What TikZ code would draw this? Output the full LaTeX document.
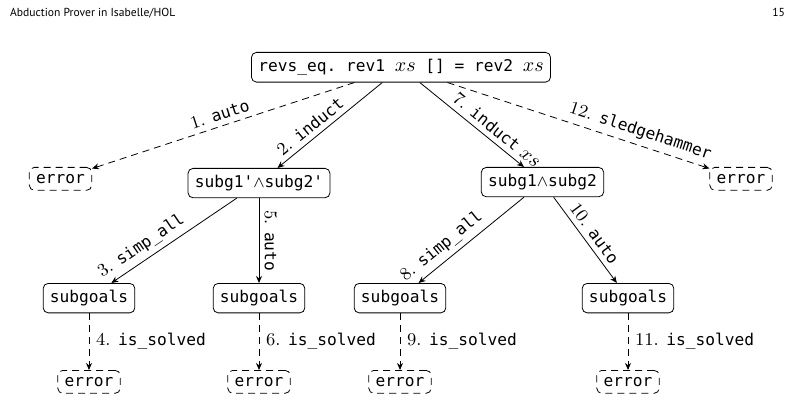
\documentclass[tikz,border=0pt]{standalone}
\usepackage{fontspec}
\setmonofont{DejaVu Sans Mono}
\newfontfamily\headfont{PT Sans}
\usetikzlibrary{arrows.meta}

\newcommand{\vxs}{{\fontsize{9.6}{10}\selectfont$xs$}}
\newcommand{\tacl}[2]{{\fontsize{9}{10}\selectfont #1.} \texttt{#2}}

\begin{document}
\begin{tikzpicture}[x=0.5pt,y=-0.5pt,>={Stealth[length=3.5pt,width=3pt]},font=\fontsize{8.1}{10}\selectfont]
		\tikzstyle{goal}=[draw,rounded corners=2.5pt,inner sep=3.4pt,anchor=north,font=\fontsize{8.1}{10}\selectfont\ttfamily]
		\tikzstyle{fail}=[goal,dash pattern=on 3.5pt off 2.5pt]
		\tikzstyle{try}=[dash pattern=on 3.5pt off 2.5pt]
		\tikzstyle{tac}=[sloped,above,inner sep=2.5pt]

		\useasboundingbox (0,0) rectangle (801,400);

		\node[anchor=base west,font=\headfont\fontsize{5.8}{7}\selectfont](title) at (3,17){Abduction Prover in Isabelle/HOL};
		\node[anchor=base east,font=\headfont\fontsize{5.8}{7}\selectfont](page) at (792,17){15};

		\node[goal](root) at (401,52){revs\_eq. rev1 \vxs{} [] = rev2 \vxs};

		\node[fail](e0) at (60.5,167){error};
		\node[goal](s1) at (259,168){subg1'$\wedge$subg2'};
		\node[goal](s2) at (542.5,167){subg1$\wedge$subg2};
		\node[fail](e5) at (741,167){error};

		\node[goal](g1) at (89,283){subgoals};
		\node[goal](g2) at (259,283){subgoals};
		\node[goal](g3) at (400,283){subgoals};
		\node[goal](g4) at (628,283){subgoals};

		\node[fail](e1) at (89,370){error};
		\node[fail](e2) at (259,370){error};
		\node[fail](e3) at (400,370){error};
		\node[fail](e4) at (628,370){error};

		\draw[->,try] (root) -- node[tac,pos=.5]{\tacl{1}{auto}} (e0);
		\draw[->] (root) -- node[tac,pos=.62]{\tacl{2}{induct}} (s1);
		\draw[->] (root) -- node[tac,pos=.67]{\tacl{7}{induct} \vxs} (s2);
		\draw[->,try] (root) -- node[tac,pos=.72]{\tacl{12}{sledgehammer}} (e5);

		\draw[->] (s1) -- node[tac,pos=.7]{\tacl{3}{simp\_all}} (g1);
		\draw[->] (s1) -- node[tac,pos=.5]{\tacl{5}{auto}} (g2);
		\draw[->] (s2) -- node[tac,pos=.7]{\tacl{8}{simp\_all}} (g3);
		\draw[->] (s2) -- node[tac,pos=.5]{\tacl{10}{auto}} (g4);

		\draw[->,try] (g1) -- node[right]{\tacl{4}{is\_solved}} (e1);
		\draw[->,try] (g2) -- node[right]{\tacl{6}{is\_solved}} (e2);
		\draw[->,try] (g3) -- node[right]{\tacl{9}{is\_solved}} (e3);
		\draw[->,try] (g4) -- node[right]{\tacl{11}{is\_solved}} (e4);
\end{tikzpicture}
\end{document}
